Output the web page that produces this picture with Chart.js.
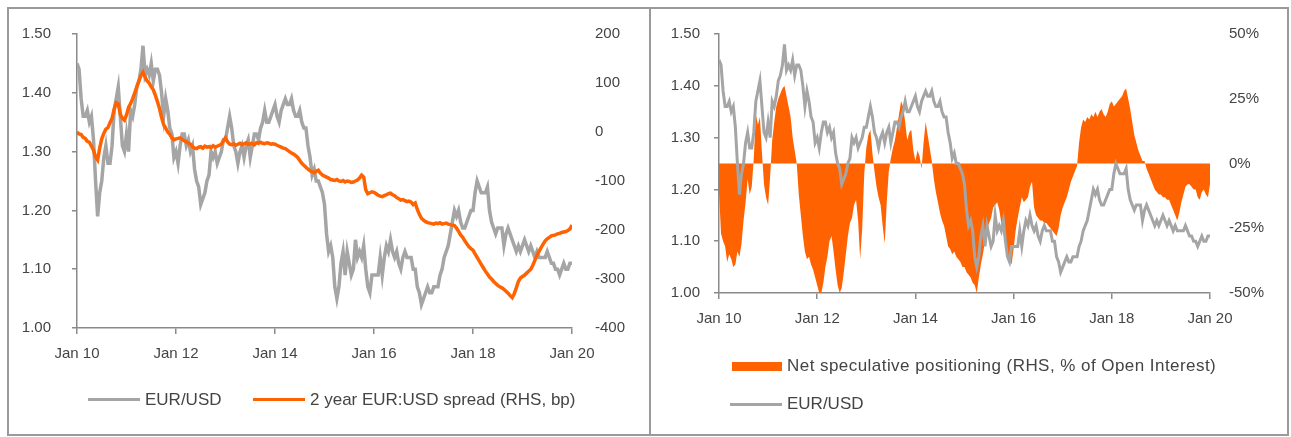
<!DOCTYPE html>
<html>
<head>
<meta charset="utf-8">
<script src="https://cdn.jsdelivr.net/npm/chart.js@4.4.1/dist/chart.umd.min.js"></script>
<style>
  html, body { margin: 0; padding: 0; background: #fff; }
  #wrap { position: relative; width: 1291px; height: 437px; overflow: hidden; font-family: "Liberation Sans", Arial, sans-serif; color: #444; }
  .frame { position: absolute; left: 7px; top: 7px; width: 1278px; height: 425px; border: 2px solid #9a9a9a; }
  .divider { position: absolute; left: 649px; top: 7px; width: 2px; height: 429px; background: #9a9a9a; }
  canvas { position: absolute; }
  #leftChart { left: 8px; top: 8px; }
  #rightChart { left: 651px; top: 8px; }
  .lg { position: absolute; font-size: 17px; line-height: 18px; white-space: nowrap; }
  .sw { position: absolute; }
</style>
</head>
<body>
<div id="wrap">
  <div class="frame"></div>
  <div class="divider"></div>
  <canvas id="leftChart" width="641" height="427"></canvas>
  <canvas id="rightChart" width="636" height="427"></canvas>

  <!-- legend, left panel -->
  <div class="sw" style="left:88px;top:398px;width:52px;height:3px;background:#a5a5a5"></div>
  <div class="lg" style="left:145px;top:391px">EUR/USD</div>
  <div class="sw" style="left:253px;top:398px;width:52px;height:3px;background:#ff6200"></div>
  <div class="lg" style="left:310px;top:391px">2 year EUR:USD spread (RHS, bp)</div>

  <!-- legend, right panel -->
  <div class="sw" style="left:732px;top:362px;width:50px;height:9px;background:#ff6200"></div>
  <div class="lg" style="left:787px;top:357px;letter-spacing:0.45px">Net speculative positioning (RHS, % of Open Interest)</div>
  <div class="sw" style="left:730px;top:403px;width:52px;height:3px;background:#a5a5a5"></div>
  <div class="lg" style="left:787px;top:395px">EUR/USD</div>
</div>

<script>
// semi-monthly observations, Jan 2010 .. Jan 2020
const startYear = 2010;
const perYear = 24;
const xTicks = [2010, 2012, 2014, 2016, 2018, 2020];
const yearLabels = ['Jan 10', 'Jan 12', 'Jan 14', 'Jan 16', 'Jan 18', 'Jan 20'];

const eurUsd = [
    1.45, 1.44, 1.39, 1.36, 1.36, 1.37, 1.35, 1.36, 1.32, 1.25, 1.19, 1.23, 1.25, 1.29, 1.31, 1.28, 1.28, 1.31, 1.37, 1.39, 1.41, 1.36, 1.31, 1.30,
    1.33, 1.30, 1.37, 1.36, 1.38, 1.41, 1.42, 1.44, 1.48, 1.43, 1.44, 1.43, 1.45, 1.42, 1.44, 1.44, 1.43, 1.40, 1.36, 1.39, 1.37, 1.34, 1.33, 1.29,
    1.30, 1.28, 1.31, 1.33, 1.33, 1.31, 1.32, 1.30, 1.31, 1.27, 1.25, 1.24, 1.21, 1.22, 1.23, 1.25, 1.26, 1.30, 1.29, 1.30, 1.28, 1.29, 1.30, 1.32,
    1.32, 1.34, 1.36, 1.34, 1.31, 1.30, 1.28, 1.30, 1.31, 1.29, 1.31, 1.32, 1.29, 1.31, 1.33, 1.33, 1.32, 1.34, 1.35, 1.37, 1.35, 1.35, 1.36, 1.37,
    1.38, 1.36, 1.35, 1.37, 1.38, 1.39, 1.38, 1.38, 1.39, 1.37, 1.36, 1.36, 1.37, 1.35, 1.34, 1.34, 1.31, 1.29, 1.26, 1.27, 1.25, 1.25, 1.24, 1.23,
    1.21, 1.16, 1.13, 1.14, 1.12, 1.07, 1.05, 1.07, 1.11, 1.13, 1.09, 1.13, 1.11, 1.09, 1.10, 1.15, 1.12, 1.13, 1.12, 1.14, 1.10, 1.07, 1.06, 1.09,
    1.09, 1.09, 1.09, 1.12, 1.09, 1.12, 1.14, 1.13, 1.15, 1.13, 1.12, 1.13, 1.11, 1.10, 1.12, 1.13, 1.12, 1.12, 1.12, 1.10, 1.10, 1.07, 1.06, 1.04,
    1.05, 1.06, 1.07, 1.06, 1.06, 1.07, 1.07, 1.07, 1.09, 1.10, 1.12, 1.13, 1.14, 1.16, 1.18, 1.20, 1.19, 1.20, 1.18, 1.17, 1.17, 1.18, 1.19, 1.20,
    1.20, 1.23, 1.25, 1.24, 1.23, 1.23, 1.23, 1.24, 1.20, 1.18, 1.17, 1.16, 1.17, 1.17, 1.17, 1.14, 1.16, 1.17, 1.16, 1.15, 1.14, 1.13, 1.14, 1.13,
    1.14, 1.15, 1.14, 1.13, 1.14, 1.13, 1.12, 1.13, 1.12, 1.12, 1.12, 1.12, 1.13, 1.12, 1.11, 1.11, 1.10, 1.10, 1.09, 1.10, 1.11, 1.10, 1.10, 1.11,
    1.11
];

// 2 year EUR:USD spread, bp
const spread2y = [
    0, -4, -5, -11, -13, -19, -21, -29, -37, -51, -57, -33, -14, -3, 6, 9, 19, 28, 46, 60, 58, 36, 28, 24,
    35, 50, 58, 68, 80, 92, 104, 115, 122, 112, 104, 100, 92, 86, 75, 62, 48, 30, 15, 8, 0, -5, -12, -16,
    -14, -13, -12, -15, -18, -20, -23, -25, -30, -33, -34, -31, -30, -33, -29, -31, -30, -32, -28, -31, -29, -27, -25, -18,
    -12, -20, -25, -26, -24, -27, -25, -23, -26, -24, -22, -25, -24, -23, -26, -22, -23, -21, -23, -24, -22, -23, -25, -24,
    -25, -27, -29, -31, -33, -34, -37, -40, -43, -45, -48, -52, -58, -64, -68, -72, -76, -79, -81, -83, -80, -78, -84, -88,
    -90, -92, -94, -97, -98, -99, -97, -100, -101, -99, -102, -100, -101, -103, -102, -100, -98, -94, -88, -92, -118, -126, -124, -122,
    -123, -126, -129, -131, -132, -130, -128, -126, -125, -128, -130, -134, -136, -139, -138, -140, -142, -141, -143, -148, -145, -158, -168, -176,
    -180, -183, -185, -186, -187, -188, -186, -187, -185, -188, -187, -186, -188, -189, -190, -191, -196, -203, -210, -215, -222, -228, -234, -238,
    -241, -249, -256, -263, -270, -277, -284, -290, -296, -300, -305, -309, -313, -316, -318, -321, -325, -329, -334, -338, -330, -318, -305, -298,
    -295, -292, -288, -284, -280, -272, -262, -252, -244, -236, -229, -222, -218, -215, -212, -211, -210, -208, -207, -205, -204, -203, -201, -198,
    -190
];

// net speculative positioning, % of open interest
const netSpec = [
    -11, -27, -30, -32, -38, -35, -37, -40, -39, -34, -36, -31, -22, -15, -6, -12, -9, 2, 19, 15, 18, 4, -8, -13,
    -16, -5, 9, 16, 22, 25, 27, 29, 30, 26, 22, 18, 10, 5, 0, -12, -20, -28, -34, -37, -36, -39, -41, -44,
    -47, -50, -50, -46, -40, -36, -30, -28, -34, -41, -47, -50, -48, -42, -35, -28, -23, -21, -16, -14, -22, -37, -25, -4,
    6, 11, 13, 4, -3, -9, -13, -16, -24, -31, -15, -3, 2, 6, 9, 14, 19, 24, 22, 16, 9, 12, 13, 5,
    1, 5, 3, -2, 8, 16, 11, 6, 1, -6, -11, -15, -19, -22, -24, -28, -32, -33, -35, -34, -36, -37, -38, -40,
    -40, -42, -43, -44, -46, -47, -50, -44, -39, -35, -30, -26, -23, -21, -17, -16, -15, -18, -23, -27, -31, -35, -37, -39,
    -33, -26, -21, -17, -13, -15, -14, -13, -9, -7, -17, -20, -21, -22, -22, -23, -23, -24, -25, -26, -27, -28, -25, -20,
    -17, -15, -13, -10, -7, -5, -3, -1, 8, 14, 17, 16, 18, 17, 19, 18, 20, 18, 20, 21, 19, 18, 20, 23,
    24, 22, 23, 24, 25, 26, 28, 29, 25, 21, 16, 11, 8, 5, 3, 1, 1, -2, -4, -6, -8, -10, -11, -12,
    -12, -13, -13, -14, -14, -16, -18, -20, -22, -19, -15, -12, -9, -8, -8, -9, -10, -10, -13, -14, -11, -10, -12, -13,
    -8
];

const orange = '#ff6200';
const grey = '#a5a5a5';
const axisColor = '#8a8a8a';

Chart.defaults.font.family = '"Liberation Sans", Arial, sans-serif';
Chart.defaults.font.size = 15;
Chart.defaults.color = '#444';

function toPoints(values) {
    return values.map(function (v, i) {
        return { x: startYear + i / perYear, y: v };
    });
}

function xAxis() {
    return {
        type: 'linear',
        min: 2010,
        max: 2020,
        afterBuildTicks: function (scale) {
            scale.ticks = xTicks.map(function (v) { return { value: v }; });
        },
        afterFit: function (scale) { scale.height = 40; },
        grid: { drawOnChartArea: false, tickLength: 6, color: axisColor, lineWidth: 1.5 },
        border: { color: axisColor, width: 1.5 },
        ticks: {
            padding: 11,
            maxRotation: 0,
            autoSkip: false,
            callback: function (value, index) { return yearLabels[index]; }
        }
    };
}

// the tick padding also pads the chart top, so keep it small and
// push labels out with a longer tick that is only half drawn
function leftAxis(width, gap) {
    const pad = Math.min(gap, 17);
    const tl = 5 + gap - pad;
    return {
        position: 'left',
        min: 1.0,
        max: 1.5,
        afterFit: function (scale) { scale.width = width; },
        grid: {
            drawOnChartArea: false, tickLength: tl, color: axisColor, lineWidth: 1.5,
            tickBorderDash: [5, tl - 5], tickBorderDashOffset: 5
        },
        border: { color: axisColor, width: 1.5 },
        ticks: {
            stepSize: 0.1,
            padding: pad,
            callback: function (value) { return value.toFixed(2); }
        }
    };
}

function rightAxis(min, max, step, gap, suffix) {
    return {
        position: 'right',
        min: min,
        max: max,
        afterFit: function (scale) { scale.width = 77; },
        grid: { drawOnChartArea: false, drawTicks: true, tickLength: gap - 17, color: 'rgba(0,0,0,0)' },
        border: { display: false },
        ticks: {
            stepSize: step,
            padding: 17,
            callback: function (value) { return Math.round(value) + suffix; }
        }
    };
}

const commonOptions = {
    responsive: false,
    maintainAspectRatio: false,
    animation: false,
    devicePixelRatio: 1,
    plugins: { legend: { display: false }, tooltip: { enabled: false } },
    elements: { point: { radius: 0 }, line: { tension: 0 } }
};

// Left: EUR/USD vs 2y spread
new Chart(document.getElementById('leftChart').getContext('2d'), {
    type: 'line',
    data: {
        datasets: [{
            label: '2 year EUR:USD spread (RHS, bp)',
            data: toPoints(spread2y),
            yAxisID: 'y1',
            borderColor: orange,
            backgroundColor: orange,
            borderWidth: 3.5,
            order: 0
        }, {
            label: 'EUR/USD',
            data: toPoints(eurUsd),
            yAxisID: 'y',
            borderColor: grey,
            backgroundColor: grey,
            borderWidth: 3.5,
            order: 1
        }]
    },
    options: Object.assign({}, commonOptions, {
        layout: { padding: { top: 26, bottom: 67, left: 0, right: 0 } },
        scales: {
            x: xAxis(),
            y: leftAxis(69, 21),
            y1: rightAxis(-400, 200, 100, 23, '')
        }
    })
});

// Right: EUR/USD vs net speculative positioning
new Chart(document.getElementById('rightChart').getContext('2d'), {
    type: 'line',
    data: {
        datasets: [{
            label: 'EUR/USD',
            data: toPoints(eurUsd),
            yAxisID: 'y',
            borderColor: grey,
            backgroundColor: grey,
            borderWidth: 3,
            order: 0
        }, {
            label: 'Net speculative positioning (RHS, % of Open Interest)',
            data: toPoints(netSpec),
            yAxisID: 'y1',
            borderColor: orange,
            backgroundColor: orange,
            borderWidth: 0,
            fill: 'origin',
            order: 1
        }]
    },
    options: Object.assign({}, commonOptions, {
        layout: { padding: { top: 26, bottom: 102, left: 0, right: 0 } },
        scales: {
            x: xAxis(),
            y: leftAxis(68, 14),
            y1: rightAxis(-50, 50, 25, 19, '%')
        }
    })
});
</script>
</body>
</html>
